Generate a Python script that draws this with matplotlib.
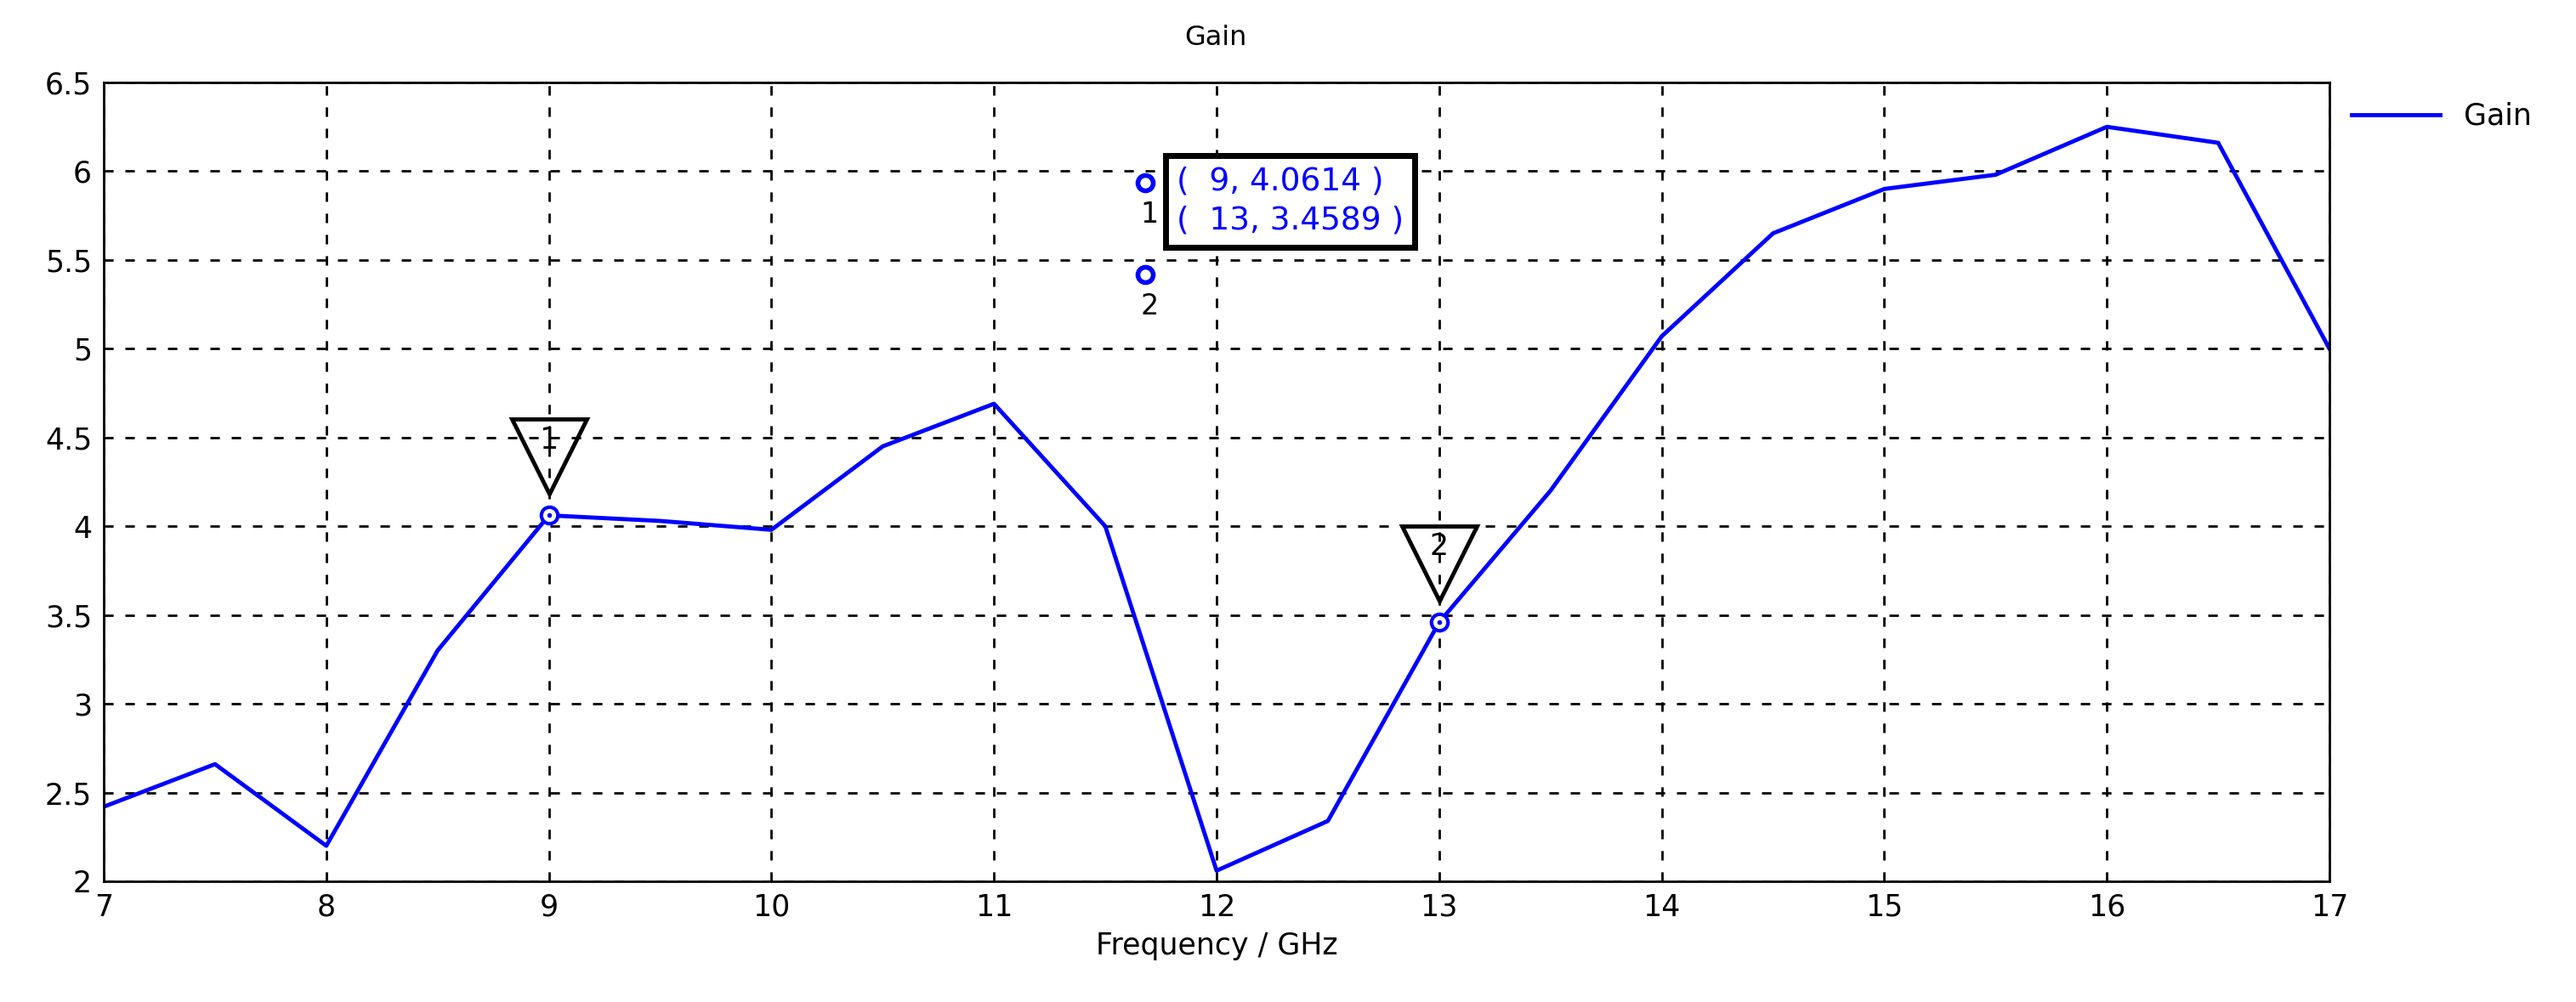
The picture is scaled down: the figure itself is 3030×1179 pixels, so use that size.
import matplotlib
matplotlib.use('Agg')
import matplotlib.pyplot as plt
from matplotlib.transforms import offset_copy

freq = [7, 7.5, 8, 8.5, 9, 9.5, 10, 10.5, 11, 11.5, 12, 12.5, 13, 13.5, 14, 14.5, 15, 15.5, 16, 16.5, 17]
gain = [2.42, 2.66, 2.20, 3.30, 4.0614, 4.03, 3.98, 4.45, 4.69, 4.00, 2.06, 2.34, 3.4589, 4.20, 5.07, 5.65, 5.90, 5.98, 6.25, 6.16, 5.00]
markers = [(9, 4.0614, '1'), (13, 3.4589, '2')]

fig = plt.figure(figsize=(30.3, 11.79), dpi=100)
ax = fig.add_axes([122 / 3030, 1 - 1037 / 1179, (2740 - 122) / 3030, (1037 - 97) / 1179])
ax.plot(freq, gain, color='#0000ff', lw=3.5)
ax.set_xlim(7, 17)
ax.set_ylim(2, 6.5)
ax.set_xticks(range(7, 18))
ax.set_yticks([2, 2.5, 3, 3.5, 4, 4.5, 5, 5.5, 6, 6.5])
ax.set_yticklabels(['2', '2.5', '3', '3.5', '4', '4.5', '5', '5.5', '6', '6.5'])
ax.tick_params(labelsize=25, length=0, pad=10)
ax.grid(True, color='black', linestyle=(0, (4, 5)), lw=2)
for s in ax.spines.values():
    s.set_linewidth(2)
ax.set_xlabel('Frequency / GHz', fontsize=25, labelpad=8)
fig.text(0.472, 0.975, 'Gain', ha='center', va='top', fontsize=23)

# markers
for x, y, lab in markers:
    ax.plot(x, y, 'o', ms=14, mfc='white', mec='#0000ff', mew=3, zorder=6)
    ax.plot(x, y, 'o', ms=3, color='#0000ff', zorder=7)
    tr = offset_copy(ax.transData, fig=fig, x=0, y=50, units='points')
    ax.plot([x], [y], marker='v', ms=64, mfc='none', mec='black', mew=3.5, transform=tr, clip_on=False)
    ax.annotate(lab, xy=(x, y), xytext=(0, 64), textcoords='offset points', ha='center', va='center',
                fontsize=25)

# readout box
box = '\n'.join(f'(  {x:g}, {y:.4f} )' for x, y, _ in markers)
ax.text(0.482, 0.895, box, transform=ax.transAxes, ha='left', va='top', fontsize=27, color='#0000ff',
        linespacing=1.35, bbox=dict(boxstyle='square,pad=0.35', fc='white', ec='black', lw=5), zorder=8)
for i, (x, y, lab) in enumerate(markers):
    yy = 0.875 - i * 0.115
    ax.plot(0.468, yy, 'o', ms=13, mfc='white', mec='#0000ff', mew=4, transform=ax.transAxes, zorder=9)
    ax.text(0.470, yy - 0.04, lab, transform=ax.transAxes, ha='center', va='center', fontsize=24, zorder=9)

# legend
fig.legend(handles=ax.get_lines()[:1], labels=['Gain'], loc='upper left', bbox_to_anchor=(2735 / 3030, 0.925),
           frameon=False, fontsize=25, handlelength=3)
fig.savefig('out.png', dpi=100)
